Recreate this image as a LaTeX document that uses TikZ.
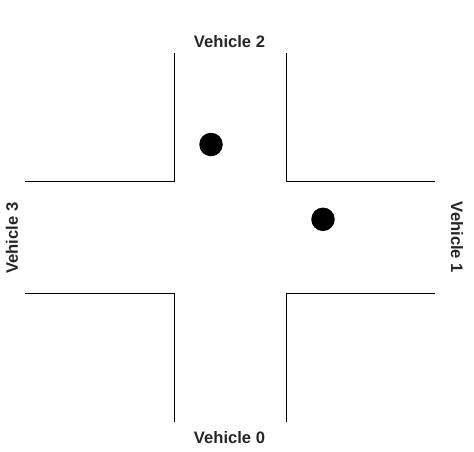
\documentclass[tikz,border=0pt]{standalone}
\usepackage{fontspec}
\setmainfont{Liberation Sans}
\begin{document}
\begin{tikzpicture}[x=1pt,y=-1pt,
  road/.style={draw=black,line width=1.1pt},
  car/.style={circle,fill=black,inner sep=0pt,minimum size=23.5pt},
  lbl/.style={text=black!85,font=\fontsize{16.6}{19}\selectfont\bfseries,inner sep=0pt}]
\useasboundingbox (0,0) rectangle (474,451);
% road corner coordinates
\coordinate (tl1) at (174.5,53);
\coordinate (tl2) at (174.5,181.5);
\coordinate (tl3) at (25,181.5);
\coordinate (tr1) at (286.5,53);
\coordinate (tr2) at (286.5,181.5);
\coordinate (tr3) at (435,181.5);
\coordinate (bl1) at (25,293.5);
\coordinate (bl2) at (174.5,293.5);
\coordinate (bl3) at (174.5,422);
\coordinate (br1) at (435,293.5);
\coordinate (br2) at (286.5,293.5);
\coordinate (br3) at (286.5,422);
\draw[road] (tl1) -- (tl2) -- (tl3);
\draw[road] (tr1) -- (tr2) -- (tr3);
\draw[road] (bl1) -- (bl2) -- (bl3);
\draw[road] (br1) -- (br2) -- (br3);
% vehicles
\node[car] (c2) at (211,144.5) {};
\node[car] (c1) at (323,219.3) {};
% labels
\node[lbl] (v2) at (229.5,41.5) {Vehicle 2};
\node[lbl] (v0) at (229.5,437.5) {Vehicle 0};
\node[lbl,rotate=90] (v3) at (12,238) {Vehicle 3};
\node[lbl,rotate=-90] (v1) at (457,237.5) {Vehicle 1};
\end{tikzpicture}
\end{document}
